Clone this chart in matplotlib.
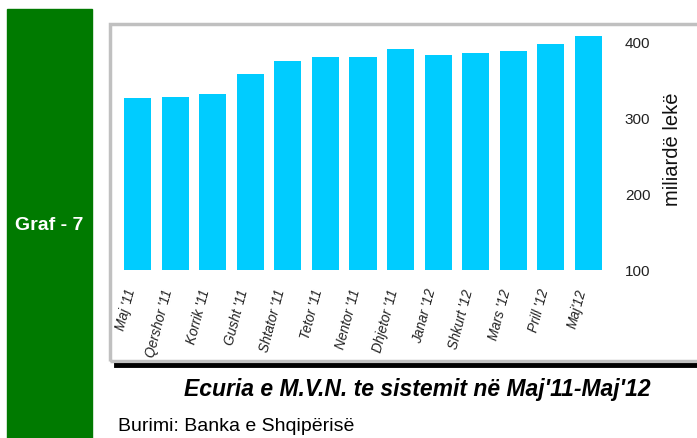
import matplotlib
matplotlib.use("Agg")
import matplotlib.pyplot as plt
from matplotlib.patches import Rectangle
from matplotlib.lines import Line2D

plt.rcParams["font.family"] = ["Liberation Sans", "DejaVu Sans"]

months = ["Maj '11", "Qershor '11", "Korrik '11", "Gusht '11", "Shtator '11",
          "Tetor '11", "Nentor '11", "Dhjetor '11", "Janar '12", "Shkurt '12",
          "Mars '12", "Prill '12", "Maj'12"]
values = [325, 327, 331, 357, 374, 379, 379, 390, 382, 384, 387, 396, 407]
yticks = [100, 200, 300, 400]

W, H = 697, 439
fig = plt.figure(figsize=(W / 100, H / 100), dpi=100)


def fx(px):
    return px / W


def fy(py):
    return 1 - py / H


# green side panel
fig.patches.append(Rectangle((fx(7), 0), fx(92) - fx(7), fy(10),
                             transform=fig.transFigure, color="#007a00", zorder=0))
fig.text(fx(49), fy(225), "Graf - 7", color="white", fontsize=14,
         fontweight="bold", ha="center", va="center")

# grey frame around the chart
fig.patches.append(Rectangle((fx(110), fy(362)), fx(720) - fx(110), fy(25) - fy(362),
                             transform=fig.transFigure, fill=False,
                             edgecolor="#c0c0c0", linewidth=2.5, zorder=0))
fig.lines.append(Line2D([fx(116), 1], [fy(366), fy(366)], transform=fig.transFigure,
                        color="black", linewidth=3.5))

ax = fig.add_axes([fx(115), fy(271), fx(611) - fx(115), fy(27) - fy(271)])
x = range(len(months))
ax.bar(x, values, width=0.72, bottom=0, color="#00ccff", zorder=2)
ax.set_xlim(-0.6, len(months) - 0.4)
ax.set_ylim(100, 420)
ax.set_yticks(yticks)
ax.yaxis.tick_right()
ax.yaxis.set_label_position("right")
ax.tick_params(axis="y", length=0, pad=10, labelsize=11, colors="#222222")
ax.set_ylabel("miliardë lekë", fontsize=14.5, labelpad=9, color="#111111")
ax.set_xticks(list(x))
ax.set_xticklabels(months, rotation=75, ha="right", fontsize=9.8,
                   style="italic", color="#222222")
ax.tick_params(axis="x", length=0, pad=12)
for s in ax.spines.values():
    s.set_visible(False)
ax.patch.set_alpha(0)

fig.text(fx(417), fy(390), "Ecuria e M.V.N. te sistemit në Maj'11-Maj'12",
         fontsize=16.5, fontweight="bold", style="italic", ha="center", va="center")
fig.text(fx(118), fy(427), "Burimi: Banka e Shqipërisë", fontsize=14,
         ha="left", va="center")

fig.savefig("out.png", dpi=100)
